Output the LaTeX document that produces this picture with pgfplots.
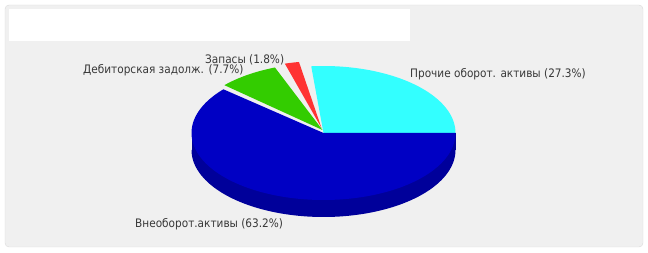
\documentclass[border=0pt]{standalone}
\usepackage{pgfplots}
\pgfplotsset{compat=1.18}
\usepackage{fontspec}
\setmainfont{DejaVu Sans Condensed}
\definecolor{panel}{HTML}{F0F0F0}
\definecolor{panelborder}{HTML}{DADADA}
\definecolor{piecyan}{HTML}{33FFFF}
\definecolor{piered}{HTML}{FF3333}
\definecolor{piegreen}{HTML}{33CC00}
\definecolor{pieblue}{HTML}{0000C4}
\definecolor{sideblue}{HTML}{00009A}
\definecolor{labeltext}{HTML}{383838}
% data: shares in percent
\def\pA{27.3}% Прочие оборот. активы
\def\pB{1.8}%  Запасы
\def\pC{7.7}%  Дебиторская задолж.
\def\pD{63.2}% Внеоборот.активы
% geometry (1 unit = 1 px)
\def\cx{323.5}\def\cy{120}\def\rx{132}\def\ry{67}\def\dep{17}
\def\k{0.97}
\pgfmathsetmacro{\aAs}{0}
\pgfmathsetmacro{\aAe}{\aAs+\pA*3.6*\k}
\pgfmathsetmacro{\aBs}{\aAe+4.5}
\pgfmathsetmacro{\aBe}{\aBs+\pB*3.6*\k}
\pgfmathsetmacro{\aCs}{\aBe+5}
\pgfmathsetmacro{\aCe}{\aCs+\pC*3.6*\k}
\pgfmathsetmacro{\aDs}{\aCe+1.3}
\pgfmathsetmacro{\aDe}{360}
\pgfmathsetmacro{\xl}{\cx-\rx}
\pgfmathsetmacro{\xr}{\cx+\rx}
\pgfmathsetmacro{\yb}{\cy-\dep}
\begin{document}
\begin{tikzpicture}
\useasboundingbox (0,0) rectangle (648bp,253bp);
\begin{axis}[at={(0,0)}, anchor=south west, scale only axis,
  width=648bp, height=253bp, xmin=0, xmax=648, ymin=0, ymax=253,
  hide axis, clip=false]
% panel
\draw[panelborder, fill=panel, rounded corners=4pt] (axis cs:5,6) rectangle (axis cs:643,248);
\fill[white] (axis cs:9,212) rectangle (axis cs:410,244);
% side of the blue slice
\addplot[draw=none, fill=sideblue, domain=180:360, samples=90, variable=\t]
  ({\cx+\rx*cos(\t)}, {\yb+\ry*sin(\t)}) -- cycle;
\addplot[draw=none, fill=sideblue] coordinates {(\xl,\yb) (\xr,\yb) (\xr,\cy) (\xl,\cy)} -- cycle;
% tops
\addplot[draw=none, fill=piecyan, domain=\aAs:\aAe, samples=60, variable=\t]
  ({\cx+\rx*cos(\t)}, {\cy+\ry*sin(\t)}) -- (axis cs:\cx,\cy) -- cycle;
\addplot[draw=none, fill=piered, domain=\aBs:\aBe, samples=20, variable=\t]
  ({\cx-2+\rx*cos(\t)}, {\cy+5+\ry*sin(\t)}) -- (axis cs:\cx-2,\cy+5) -- cycle;
\addplot[draw=none, fill=piegreen, domain=\aCs:\aCe, samples=40, variable=\t]
  ({\cx-1+\rx*cos(\t)}, {\cy+3+\ry*sin(\t)}) -- (axis cs:\cx-1,\cy+3) -- cycle;
\addplot[draw=none, fill=pieblue, domain=\aDs:\aDe, samples=150, variable=\t]
  ({\cx+\rx*cos(\t)}, {\cy+\ry*sin(\t)}) -- (axis cs:\cx,\cy) -- cycle;
% labels
\begin{scope}[every node/.style={font=\fontsize{11.7bp}{13bp}\selectfont, text=labeltext, inner sep=0pt, anchor=west}]
\node at (axis cs:410,179) {Прочие оборот. активы (\pA\%)};
\node at (axis cs:205,193) {Запасы (\pB\%)};
\node at (axis cs:83,183) {Дебиторская задолж. (\pC\%)};
\node at (axis cs:135,29) {Внеоборот.активы (\pD\%)};
\end{scope}
\end{axis}
\end{tikzpicture}
\end{document}
